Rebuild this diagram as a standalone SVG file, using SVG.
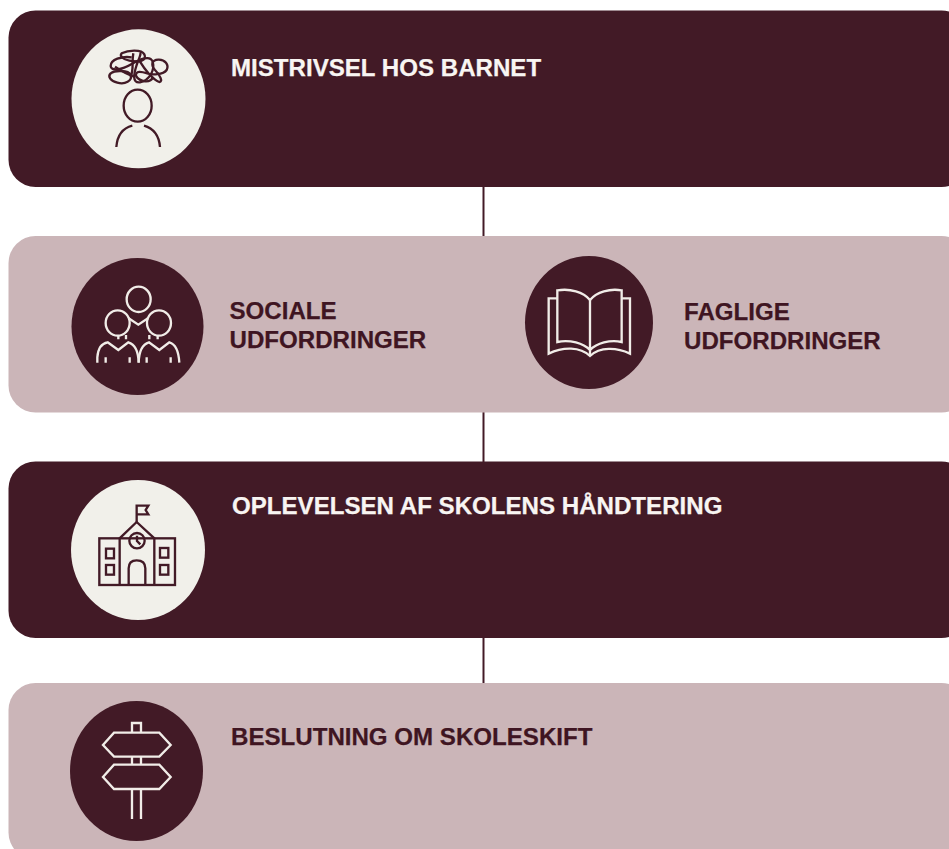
<svg xmlns="http://www.w3.org/2000/svg" width="949" height="849" viewBox="0 0 949 849">
<style>
.dark{fill:#421a26}.light{fill:#cbb5b8}.cream{fill:#f1f0ea}
.t{font-family:"Liberation Sans",Arial,sans-serif;font-weight:700;font-size:24.1px}
.tl{fill:#f8f5f2;stroke:#f8f5f2;stroke-width:.25}.td{fill:#3f1522;stroke:#3f1522;stroke-width:.25}
.i{fill:none;stroke-width:7;stroke-linecap:butt;stroke-linejoin:miter}
.id{stroke:#421a26}.il{stroke:#f1ede8}
</style>
<rect width="949" height="849" fill="#fff"/>
<g id="connectors" stroke="#421a26" stroke-width="2" fill="none">
<line x1="483.500" y1="186" x2="483.500" y2="237"/>
<line x1="483.500" y1="412" x2="483.500" y2="462"/>
<line x1="483.500" y1="637" x2="483.500" y2="684"/>
</g>
<g id="node-mistrivsel">
<rect class="dark" x="8.500" y="10.500" width="960" height="176.500" rx="27"/>
<ellipse class="cream" cx="138.500" cy="98.800" rx="67" ry="69.500"/>
<g class="i id" transform="translate(60,20) scale(.3333)" stroke-linecap="round" stroke-linejoin="round">
<ellipse cx="233" cy="257" rx="42" ry="48"/>
<path d="M217 317C190 324 172 345 169 381"/>
<path d="M252 317C280 325 297 345 300 381"/>
<path d="M185 100C205 90 245 88 253 103C262 122 238 128 208 122C188 118 178 108 185 100Z"/>
<path d="M215 112C185 108 152 118 152 138C152 155 185 150 215 132C240 118 270 104 278 125C285 150 270 180 240 187C215 190 222 160 230 135C238 112 245 100 240 96"/>
<path d="M152 160C165 150 205 150 212 165C218 182 195 195 172 188C152 183 142 170 152 160Z"/>
<path d="M220 100C215 125 222 150 212 170"/>
<path d="M240 125C255 150 280 180 298 186C310 186 300 165 285 150C272 135 275 120 295 119C315 118 328 135 320 150C310 165 275 165 262 160C245 155 225 150 228 170"/>
<path d="M165 140C180 150 205 165 225 170"/>
<path d="M228 168C240 186 270 192 280 170"/>
</g>
</g>
<text class="t tl" x="231" y="76">MISTRIVSEL HOS BARNET</text>
<g id="node-udfordringer">
<rect class="light" x="8.500" y="236" width="960" height="176.500" rx="27"/>
<ellipse class="dark" cx="137.500" cy="326.500" rx="66" ry="68.500"/>
<g class="i il" transform="translate(60,250) scale(.3333)">
<ellipse cx="236" cy="148" rx="36" ry="38"/>
<ellipse cx="173" cy="219" rx="36" ry="38"/>
<ellipse cx="297" cy="219" rx="36" ry="38"/>
<path d="M206 205L235 224L264 205"/>
<path d="M112 338V322C114 295 125 280 143 277L175 300L205 277C222 282 235 300 236 338"/>
<path d="M236 338C237 300 250 282 267 277L298 300L328 277C345 282 356 300 358 338"/>
<path d="M175 255V268M198 255V268M268 255V268M293 255V268M137 322V338M209 322V338M260 322V338M332 322V338"/>
</g>
<ellipse class="dark" cx="589" cy="322.500" rx="64" ry="66.500"/>
<g class="i il" transform="translate(515,250) scale(.3333)">
<path d="M225 150C205 125 165 115 127 121V276C165 268 205 280 225 300C245 280 285 268 320 276V121C285 115 245 125 225 150Z"/>
<path d="M225 150V318"/>
<path d="M127 145H101V311C145 290 195 290 225 318C255 290 305 292 345 311V145H320"/>
</g>
</g>
<text class="t td" x="229.500" y="318.500">SOCIALE</text>
<text class="t td" x="229.500" y="347.500">UDFORDRINGER</text>
<text class="t td" x="684" y="320">FAGLIGE</text>
<text class="t td" x="684" y="349">UDFORDRINGER</text>
<g id="node-skole">
<rect class="dark" x="8.500" y="461.500" width="960" height="176.500" rx="27"/>
<ellipse class="cream" cx="138" cy="550" rx="67" ry="70"/>
<g class="i id" transform="translate(60,475) scale(.3333)">
<rect x="118" y="190" width="227" height="140"/>
<path d="M179 330V190L230 141L283 190V330"/>
<path d="M230 141V92H265L257 105L265 118H230"/>
<circle cx="231" cy="197" r="23"/>
<path d="M231 182V198L241 208"/>
<rect x="138" y="221" width="24" height="29"/><rect x="138" y="270" width="24" height="29"/>
<rect x="300" y="219" width="25" height="29"/><rect x="300" y="270" width="25" height="29"/>
<path d="M206 330V280C206 262 217 256 230 256C245 256 256 262 256 280V330"/>
</g>
</g>
<text class="t tl" x="232" y="513.500">OPLEVELSEN AF SKOLENS HÅNDTERING</text>
<g id="node-beslutning">
<rect class="light" x="8.500" y="683" width="960" height="176.500" rx="27"/>
<ellipse class="dark" cx="136.500" cy="771" rx="66.500" ry="70"/>
<g class="i il" transform="translate(60,695) scale(.3333)">
<path d="M162 113H298L332 150L298 185H162L129 150Z"/>
<path d="M162 209H298L332 246L298 282H162L129 246Z"/>
<path d="M216 113V84H243V113M216 185V209M243 185V209M216 282V372M243 282V372"/>
</g>
</g>
<text class="t td" x="231" y="744.500">BESLUTNING OM SKOLESKIFT</text>
</svg>
